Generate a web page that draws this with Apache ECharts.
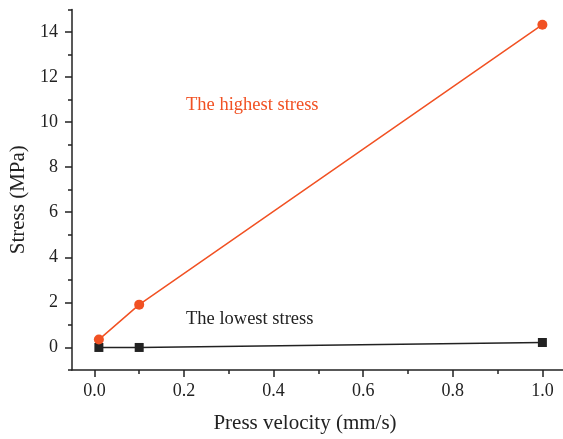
<!DOCTYPE html>
<html>
<head>
<meta charset="utf-8">
<script src="https://cdn.jsdelivr.net/npm/echarts@6/dist/echarts.min.js"></script>
<style>html,body{margin:0;padding:0;background:#fff}#c{width:563px;height:439px}</style>
</head>
<body>
<div id="c"></div>
<script>
const velocity = [0.01, 0.1, 1.0];
const highestStress = [0.35, 1.9, 14.32];
const lowestStress = [0.0, 0.0, 0.22];
const xMajorTicks = [0, 0.2, 0.4, 0.6, 0.8, 1.0];
const xMinorTicks = [0.1, 0.3, 0.5, 0.7, 0.9];
const yMajorTicks = [0, 2, 4, 6, 8, 10, 12, 14];
const yMinorTicks = [-1, 1, 3, 5, 7, 9, 11, 13, 15];

const RED = '#f15123';
const DARK = '#222222';
const FONT = 'Liberation Serif';

const chart = echarts.init(document.getElementById('c'));
const xBase = {
  type: 'value', min: -0.05, max: 1.046, gridIndex: 0, position: 'bottom',
  splitLine: {show: false}
};
const yBase = {
  type: 'value', min: -1, max: 15, gridIndex: 0, position: 'left',
  splitLine: {show: false}
};
chart.setOption({
  animation: false,
  backgroundColor: '#fff',
  grid: {left: 72, top: 9.4, width: 491, bottom: 67.4, containLabel: false},
  xAxis: [
    Object.assign({}, xBase, {
      name: 'Press velocity (mm/s)', nameLocation: 'middle', nameGap: 43,
      nameTextStyle: {fontFamily: FONT, fontSize: 21, color: DARK, padding: [0, 25, 0, 0]},
      axisLine: {show: true, onZero: false, lineStyle: {color: DARK, width: 1.5}},
      axisTick: {show: true, length: 7, customValues: xMajorTicks, lineStyle: {color: DARK, width: 1.5}},
      axisLabel: {show: true, margin: 12, customValues: xMajorTicks, fontFamily: FONT, fontSize: 18, color: DARK,
        formatter: v => v.toFixed(1)}
    }),
    Object.assign({}, xBase, {
      axisLine: {show: false, onZero: false},
      axisTick: {show: true, length: 4, customValues: xMinorTicks, lineStyle: {color: DARK, width: 1.5}},
      axisLabel: {show: false}
    })
  ],
  yAxis: [
    Object.assign({}, yBase, {
      name: 'Stress (MPa)', nameLocation: 'middle', nameGap: 38,
      nameTextStyle: {fontFamily: FONT, fontSize: 21, color: DARK, padding: [0, 20, 0, 0]},
      axisLine: {show: true, onZero: false, lineStyle: {color: DARK, width: 1.5}},
      axisTick: {show: true, length: 7, customValues: yMajorTicks, lineStyle: {color: DARK, width: 1.5}},
      axisLabel: {show: true, margin: 14, customValues: yMajorTicks, fontFamily: FONT, fontSize: 18, color: DARK}
    }),
    Object.assign({}, yBase, {
      axisLine: {show: false, onZero: false},
      axisTick: {show: true, length: 4, customValues: yMinorTicks, lineStyle: {color: DARK, width: 1.5}},
      axisLabel: {show: false}
    })
  ],
  series: [
    {
      name: 'The highest stress', type: 'line', xAxisIndex: 0, yAxisIndex: 0,
      data: velocity.map((v, i) => [v, highestStress[i]]),
      symbol: 'circle', symbolSize: 10,
      lineStyle: {color: RED, width: 1.5}, itemStyle: {color: RED}, z: 3
    },
    {
      name: 'The lowest stress', type: 'line', xAxisIndex: 0, yAxisIndex: 0,
      data: velocity.map((v, i) => [v, lowestStress[i]]),
      symbol: 'rect', symbolSize: 9,
      lineStyle: {color: DARK, width: 1.5}, itemStyle: {color: DARK}, z: 2
    }
  ],
  graphic: [
    {type: 'text', left: 186, top: 96, style: {text: 'The highest stress', font: '18.5px "Liberation Serif"', fill: RED}},
    {type: 'text', left: 186, top: 310, style: {text: 'The lowest stress', font: '18.5px "Liberation Serif"', fill: DARK}}
  ]
});
</script>
</body>
</html>
